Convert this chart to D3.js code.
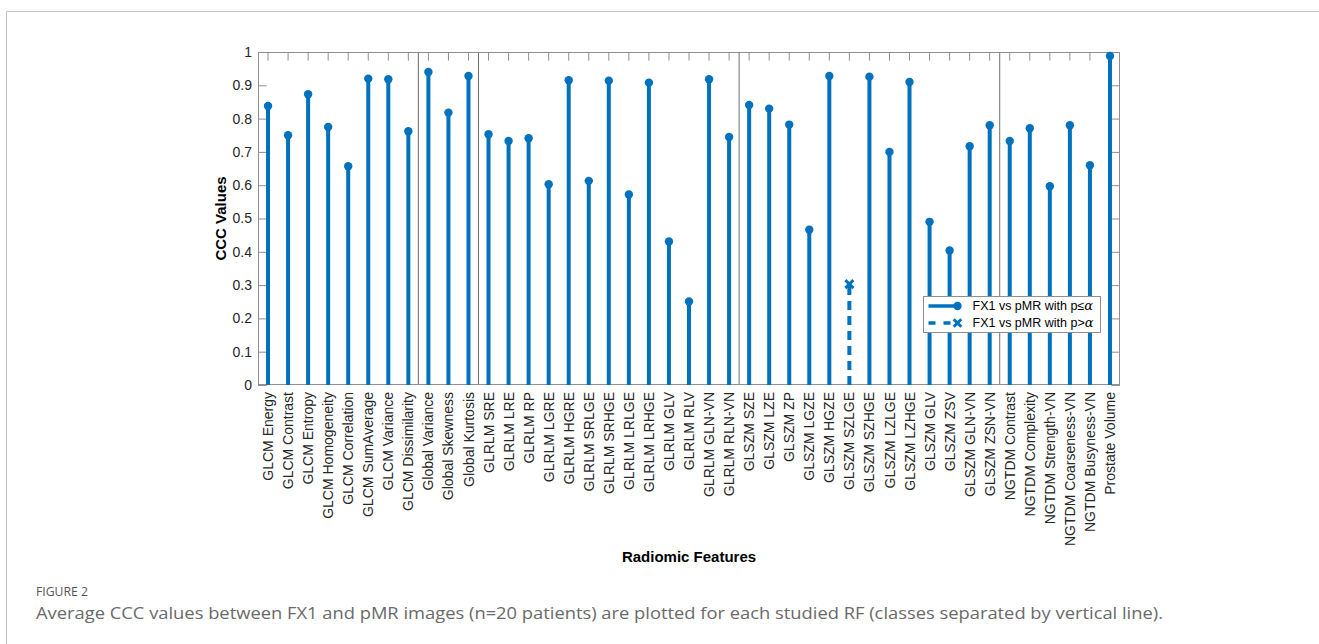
<!DOCTYPE html>
<html>
<head>
<meta charset="utf-8">
<script src="https://cdn.jsdelivr.net/npm/d3@7"></script>
<style>
  html, body { margin: 0; padding: 0; background: #fff; }
  svg { display: block; font-family: "Liberation Sans", Arial, Helvetica, sans-serif; }
</style>
</head>
<body>
<svg id="chart" width="1319" height="644"></svg>
<script>
// Radiomic features, in plotting order
const features = [
  "GLCM Energy", "GLCM Contrast", "GLCM Entropy", "GLCM Homogeneity", "GLCM Correlation",
  "GLCM SumAverage", "GLCM Variance", "GLCM Dissimilarity",
  "Global Variance", "Global Skewness", "Global Kurtosis",
  "GLRLM SRE", "GLRLM LRE", "GLRLM RP", "GLRLM LGRE", "GLRLM HGRE", "GLRLM SRLGE",
  "GLRLM SRHGE", "GLRLM LRLGE", "GLRLM LRHGE", "GLRLM GLV", "GLRLM RLV",
  "GLRLM GLN-VN", "GLRLM RLN-VN",
  "GLSZM SZE", "GLSZM LZE", "GLSZM ZP", "GLSZM LGZE", "GLSZM HGZE", "GLSZM SZLGE",
  "GLSZM SZHGE", "GLSZM LZLGE", "GLSZM LZHGE", "GLSZM GLV", "GLSZM ZSV",
  "GLSZM GLN-VN", "GLSZM ZSN-VN",
  "NGTDM Contrast", "NGTDM Complexity", "NGTDM Strength-VN", "NGTDM Coarseness-VN",
  "NGTDM Busyness-VN", "Prostate Volume"
];

// Average CCC value for each feature (FX1 vs pMR)
const cccValues = [
  0.838, 0.750, 0.873, 0.775, 0.657, 0.920, 0.918, 0.762,
  0.940, 0.818, 0.928,
  0.753, 0.733, 0.741, 0.603, 0.915, 0.613, 0.914, 0.572, 0.908, 0.431, 0.251, 0.918, 0.745,
  0.841, 0.830, 0.782, 0.466, 0.928, 0.303, 0.926, 0.700, 0.910, 0.490, 0.404, 0.717, 0.780,
  0.733, 0.771, 0.597, 0.780, 0.660, 0.988
];

// Features whose p-value exceeds alpha
const notSignificant = ["GLSZM SZLGE"];

// Last feature of each class; a vertical line is drawn after it
const classBreaks = ["GLCM Dissimilarity", "Global Kurtosis", "GLRLM RLN-VN", "GLSZM ZSN-VN"];

// Y axis ticks
const yTicks = [0, 0.1, 0.2, 0.3, 0.4, 0.5, 0.6, 0.7, 0.8, 0.9, 1];
const yTickLabels = ["0", "0.1", "0.2", "0.3", "0.4", "0.5", "0.6", "0.7", "0.8", "0.9", "1"];

// Legend entries: plain text followed by the comparison symbol
const legendPrefixes = ["FX1 vs pMR with p\u2264", "FX1 vs pMR with p>"];
const legendSymbol = "\u03B1";

const yLabel = "CCC Values";
const xLabel = "Radiomic Features";
const figureTag = "FIGURE 2";
const caption = "Average CCC values between FX1 and pMR images (n=20 patients) are plotted for each studied RF (classes separated by vertical line).";

const BLUE = "#0072BD";
const BOX = "#8f8f8f";
const TICK_LEN = 8.6;

const svg = d3.select("#chart");
const W = 1319, H = 644;
const plot = { left: 258, right: 1120, top: 52, bottom: 385 };

svg.append("rect").attr("width", W).attr("height", H).attr("fill", "#fff");

// Page card border (top and left edges)
svg.append("path")
  .attr("d", `M6.5,${H} V11.5 H${W}`)
  .attr("fill", "none").attr("stroke", "#c4c4c4").attr("stroke-width", 1);

const x = d3.scaleBand().domain(features).range([plot.left, plot.right]).padding(0);
const y = d3.scaleLinear().domain([0, 1]).range([plot.bottom, plot.top]);
const cx = f => x(f) + x.bandwidth() / 2;

const data = features.map((f, i) => ({ f, v: cccValues[i], sig: !notSignificant.includes(f) }));

// Class separator lines
svg.append("g").selectAll("line").data(classBreaks).join("line")
  .attr("x1", f => x(f) + x.bandwidth()).attr("x2", f => x(f) + x.bandwidth())
  .attr("y1", plot.top).attr("y2", plot.bottom)
  .attr("stroke", "#6e6e6e").attr("stroke-width", 1);

// Axes
const gLeft = svg.append("g").attr("transform", `translate(${plot.left},0)`)
  .call(d3.axisLeft(y).tickValues(yTicks).tickFormat((d, i) => yTickLabels[i])
    .tickSizeInner(-TICK_LEN).tickSizeOuter(0).tickPadding(6));
const gRight = svg.append("g").attr("transform", `translate(${plot.right},0)`)
  .call(d3.axisRight(y).tickValues(yTicks).tickFormat("")
    .tickSizeInner(-TICK_LEN).tickSizeOuter(0));
const gTop = svg.append("g").attr("transform", `translate(0,${plot.top})`)
  .call(d3.axisTop(x).tickFormat("").tickSizeInner(-TICK_LEN).tickSizeOuter(0));
const gBottom = svg.append("g").attr("transform", `translate(0,${plot.bottom})`)
  .call(d3.axisBottom(x).tickSizeInner(-TICK_LEN).tickSizeOuter(0));

[gLeft, gRight, gTop, gBottom].forEach(g => {
  g.select(".domain").remove();
  g.selectAll(".tick line").attr("stroke", BOX);
});
gLeft.selectAll("text").attr("font-size", 14).attr("fill", "#262626")
  .attr("font-family", "Liberation Sans, Arial, sans-serif");
gBottom.selectAll("text")
  .attr("font-size", 14).attr("fill", "#262626")
  .attr("font-family", "Liberation Sans, Arial, sans-serif")
  .attr("text-anchor", "end")
  .attr("transform", "rotate(-90)")
  .attr("x", -7).attr("y", 0).attr("dy", "0.36em");

// Axes box
svg.append("rect")
  .attr("x", plot.left + 0.5).attr("y", plot.top + 0.5)
  .attr("width", plot.right - plot.left - 1).attr("height", plot.bottom - plot.top - 1)
  .attr("fill", "none").attr("stroke", BOX).attr("stroke-width", 1);

// Stems
const stems = svg.append("g");
stems.selectAll("line").data(data).join("line")
  .attr("x1", d => cx(d.f)).attr("x2", d => cx(d.f))
  .attr("y1", y(0)).attr("y2", d => y(d.v))
  .attr("stroke", BLUE).attr("stroke-width", 4)
  .attr("stroke-dasharray", d => d.sig ? null : "9,6");

// Markers: filled circle when significant, cross otherwise
stems.selectAll("circle").data(data.filter(d => d.sig)).join("circle")
  .attr("cx", d => cx(d.f)).attr("cy", d => y(d.v)).attr("r", 4.2)
  .attr("fill", BLUE);

const crossPath = s => `M${-s},${-s}L${s},${s}M${-s},${s}L${s},${-s}`;
stems.selectAll("path.cross").data(data.filter(d => !d.sig)).join("path")
  .attr("class", "cross")
  .attr("transform", d => `translate(${cx(d.f)},${y(d.v)})`)
  .attr("d", crossPath(4))
  .attr("stroke", BLUE).attr("stroke-width", 3).attr("fill", "none");

// Axis titles
svg.append("text")
  .attr("transform", `translate(226,${(plot.top + plot.bottom) / 2}) rotate(-90)`)
  .attr("text-anchor", "middle").attr("font-size", 15).attr("font-weight", "bold")
  .attr("fill", "#000").text(yLabel);
svg.append("text")
  .attr("x", (plot.left + plot.right) / 2).attr("y", 562)
  .attr("text-anchor", "middle").attr("font-size", 15).attr("font-weight", "bold")
  .attr("fill", "#000").text(xLabel);

// Legend
const lg = svg.append("g").attr("transform", "translate(923.5,296.5)");
lg.append("rect").attr("width", 177).attr("height", 36)
  .attr("fill", "#fff").attr("stroke", BOX).attr("stroke-width", 1);
const rows = lg.selectAll("g.row").data(legendPrefixes).join("g")
  .attr("class", "row")
  .attr("transform", (d, i) => `translate(0,${9.5 + i * 17})`);
rows.append("line")
  .attr("x1", 5).attr("x2", 34).attr("y1", 0).attr("y2", 0)
  .attr("stroke", BLUE).attr("stroke-width", 3.5)
  .attr("stroke-dasharray", (d, i) => i === 0 ? null : "7,8");
rows.filter((d, i) => i === 0).append("circle")
  .attr("cx", 34).attr("cy", 0).attr("r", 4.2).attr("fill", BLUE);
rows.filter((d, i) => i === 1).append("path")
  .attr("transform", "translate(34,0)")
  .attr("d", crossPath(3.8))
  .attr("stroke", BLUE).attr("stroke-width", 3).attr("fill", "none");
const rowText = rows.append("text")
  .attr("x", 49).attr("y", 0).attr("dy", "0.35em")
  .attr("font-size", 12.5).attr("fill", "#000");
rowText.append("tspan").text(d => d);
rowText.append("tspan")
  .style("font-family", "'DejaVu Serif', 'Liberation Serif', serif")
  .style("font-style", "italic")
  .attr("font-size", 13)
  .text(legendSymbol);

// Figure caption
svg.append("text")
  .attr("x", 36).attr("y", 596)
  .style("font-family", "'Open Sans', 'Noto Sans', sans-serif")
  .attr("font-size", 12.5).attr("fill", "#555")
  .attr("textLength", 52).attr("lengthAdjust", "spacingAndGlyphs")
  .text(figureTag);
svg.append("text")
  .attr("x", 36).attr("y", 619)
  .style("font-family", "'Open Sans', 'Noto Sans', sans-serif")
  .attr("font-size", 16).attr("fill", "#6a6a6a")
  .attr("textLength", 1127).attr("lengthAdjust", "spacingAndGlyphs")
  .text(caption);
</script>
</body>
</html>
